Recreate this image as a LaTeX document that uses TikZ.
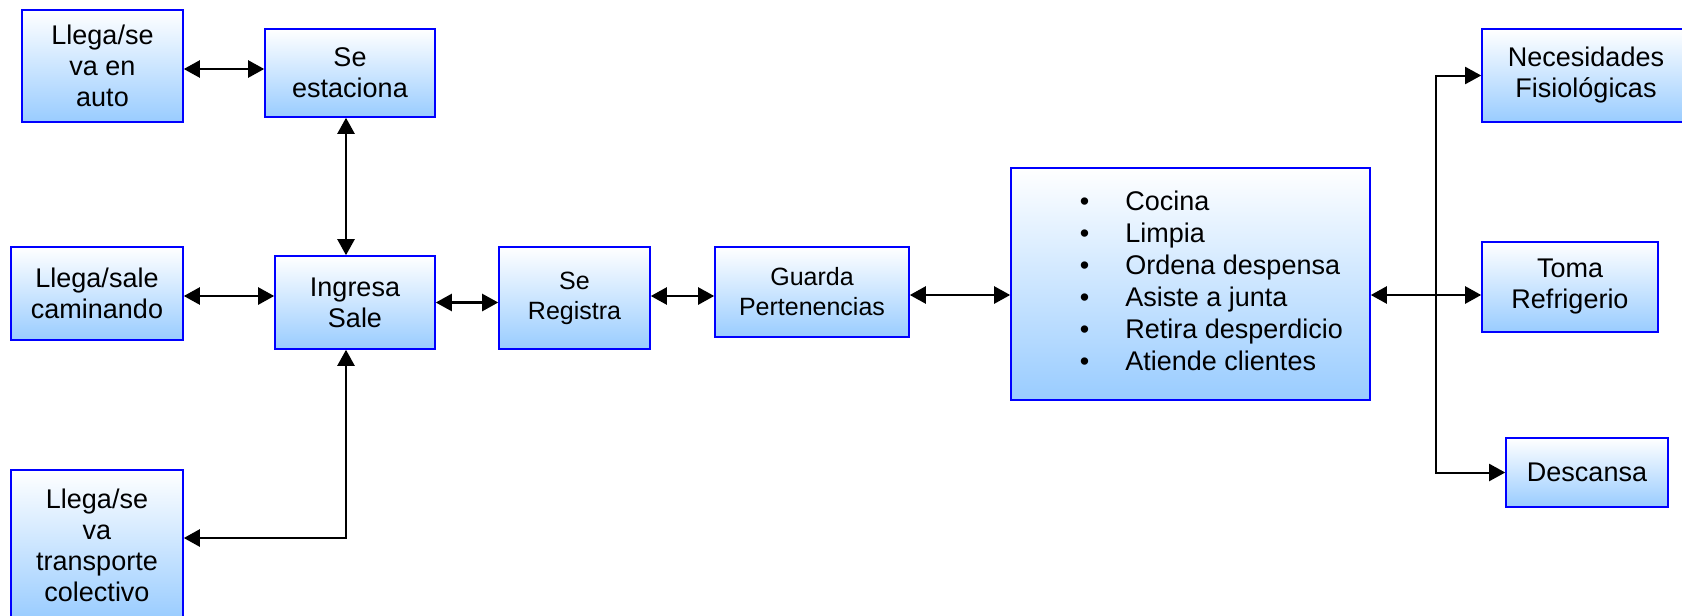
\documentclass[tikz,border=0pt]{standalone}
\usepackage{fontspec}
\setmainfont{Liberation Sans}
\usepackage{tikz}
\usetikzlibrary{positioning, arrows.meta}

\definecolor{boxline}{RGB}{0,0,255}
\definecolor{boxfill}{RGB}{153,204,255}

\begin{document}
\begin{tikzpicture}[
    x=0.5pt, y=-0.5pt,
    font=\fontsize{13.5}{15.5}\selectfont,
    box/.style={draw=boxline, line width=0.8pt, top color=white, bottom color=boxfill,
               align=center, inner sep=0pt},
    small/.style={font=\fontsize{12.5}{15}\selectfont},
    ar/.style={{Triangle[length=8pt,width=8.5pt]}-{Triangle[length=8pt,width=8.5pt]}, line width=1.2pt},
    ra/.style={-{Triangle[length=8pt,width=8.5pt]}, line width=1pt},
  ]
  \useasboundingbox (0,0) rectangle (1682,616);

  \node[box, minimum width=80.5pt, minimum height=56pt] (auto) at (102.5,66) {Llega/se\\va en\\auto};
  \node[box, minimum width=85pt, minimum height=44pt] (estac) at (350,73) {Se\\estaciona};
  \node[box, minimum width=86pt, minimum height=46.5pt] (camin) at (97,293.5) {Llega/sale\\caminando};
  \node[box, minimum width=80pt, minimum height=46.5pt] (ingresa) at (355,302.5) {Ingresa\\Sale};
  \node[box, minimum width=86pt, minimum height=75pt] (transp) at (97,545) {Llega/se\\va\\transporte\\colectivo};
  \node[box, small, minimum width=75.5pt, minimum height=51pt] (registra) at (574.5,298) {Se\\Registra};
  \node[box, small, minimum width=97pt, minimum height=45pt] (guarda) at (812,292) {Guarda\\Pertenencias};
  \node[box, minimum width=179.5pt, minimum height=116pt, font=\fontsize{13.5}{16}\selectfont] (tareas) at (1190.5,284)
    {\hspace{21pt}\begin{tabular}{@{}l@{\hspace{18pt}}l@{}}
      \textbullet & Cocina\\
      \textbullet & Limpia\\
      \textbullet & Ordena despensa\\
      \textbullet & Asiste a junta\\
      \textbullet & Retira desperdicio\\
      \textbullet & Atiende clientes
    \end{tabular}};
  \node[box, minimum width=104pt, minimum height=46.5pt] (necesid) at (1586,75.5) {Necesidades\\Fisiológicas};
  \node[box, minimum width=88pt, minimum height=45pt] (toma) at (1570,287) {Toma\\Refrigerio};
  \node[box, minimum width=81pt, minimum height=34.5pt] (descansa) at (1587,472.5) {Descansa};

  \coordinate (br) at (1436,295);

  \draw[ar] ([yshift=-1.5pt]auto.east) -- ([yshift=-1.5pt]auto.east -| estac.west);
  \draw[ar] ([xshift=-2pt]estac.south) -- ([xshift=-2pt]estac.south |- ingresa.north);
  \draw[ar] ([yshift=-1.25pt]camin.east) -- ([yshift=-1.25pt]camin.east -| ingresa.west);
  \draw[ar] ([yshift=3.5pt]transp.east) -| ([xshift=-4.5pt]ingresa.south);
  \draw[ar] (ingresa.east) -- (ingresa.east -| registra.west);
  \draw[ar] ([yshift=1pt]registra.east) -- ([yshift=1pt]registra.east -| guarda.west);
  \draw[ar] ([yshift=-1.5pt]guarda.east) -- ([yshift=-1.5pt]guarda.east -| tareas.west);
  \draw[ar] (tareas.east |- br) -- (toma.west |- br);
  \draw[ra] (br) |- (necesid.west);
  \draw[ra] (br) |- (descansa.west);
\end{tikzpicture}
\end{document}
